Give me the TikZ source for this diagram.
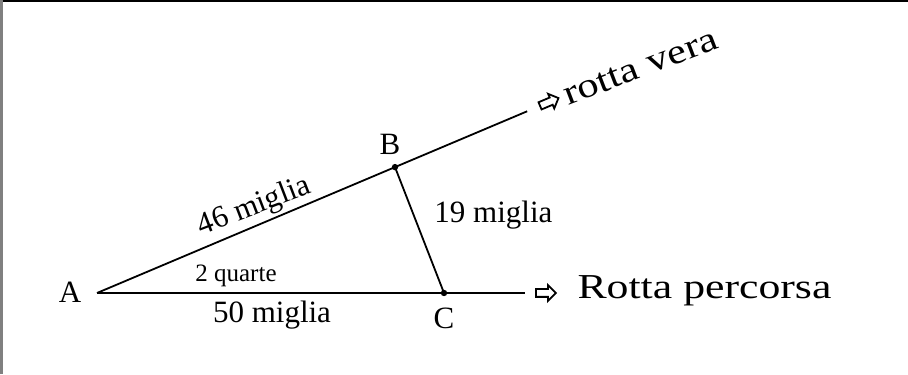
\documentclass[tikz,border=0pt]{standalone}
\usepackage{fontspec}
\setmainfont{Liberation Serif}
\usetikzlibrary{calc, positioning, shapes.arrows}

\begin{document}
\begin{tikzpicture}[x=0.5pt, y=0.5pt,
  course/.style={line width=0.9pt},
  hollowarrow/.style={single arrow, draw, line width=0.9pt, inner sep=1.5pt,
    minimum height=10pt, single arrow head extend=2pt},
  ptlabel/.style={font=\fontsize{15.5}{18}\selectfont, inner sep=0pt, anchor=base},
  dist/.style={font=\fontsize{15.5}{18}\selectfont, inner sep=0pt},
  angle label/.style={font=\fontsize{12.5}{15}\selectfont, inner sep=0pt, anchor=base},
  course label/.style={font=\fontsize{17.5}{20}\selectfont, inner sep=0pt}]
  \useasboundingbox (0,0) rectangle (908,374);
  % frame edges
  \draw[line width=1pt] (0,372.5) -- (908,372.5);
  \draw[gray, line width=1.2pt] (1.5,0) -- (1.5,374);
  % points
  \coordinate (A) at (97,81);
  \coordinate (B) at ($(A)+(22.9:323.5)$);
  \coordinate (C) at (444,81);
  \coordinate (endV) at ($(A)+(22.9:467)$);
  \coordinate (endP) at (525,81);
  % courses and the triangle
  \draw[course] (A) -- (endV);
  \draw[course] (A) -- (endP);
  \draw[course] (B) -- (C);
  \fill (B) circle (1.6pt);
  \fill (C) circle (1.6pt);
  % course arrows
  \node[hollowarrow] (arrP) at (544,81) {};
  \node[hollowarrow, rotate=22.9] (arrV) at ($(A)+(22.9:489)$) {};
  \node[course label, anchor=base west, xscale=1.25] (percorsa) at (577,75) {Rotta percorsa};
  \node[course label, anchor=base west, rotate=21, xscale=1.22] (vera) at (568,268) {rotta vera};
  % point names
  \node[ptlabel] (labA) at (70,71) {A};
  \node[ptlabel] (labB) at (390,219) {B};
  \node[ptlabel] (labC) at (444,45) {C};
  % distances and angle
  \node[dist, anchor=base, rotate=21] (distAB) at (257,160) {46 miglia};
  \node[dist, anchor=base west] (distBC) at (434,151) {19 miglia};
  \node[dist, anchor=base] (distAC) at (272,51) {50 miglia};
  \node[angle label] (quarte) at (236,92) {2 quarte};
\end{tikzpicture}
\end{document}
